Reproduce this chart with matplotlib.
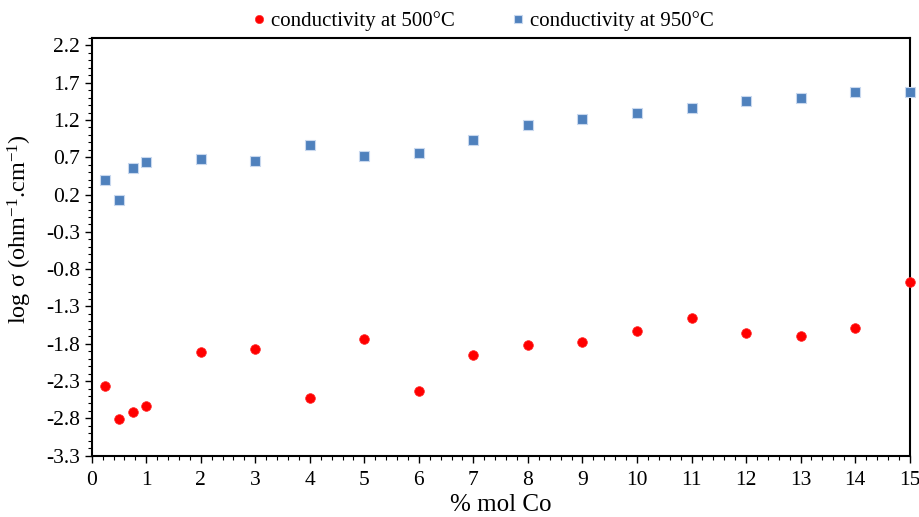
import matplotlib
matplotlib.use("Agg")
import matplotlib.pyplot as plt
from matplotlib.ticker import MultipleLocator, FixedLocator

plt.rcParams['font.family'] = ['Liberation Serif', 'DejaVu Serif']
plt.rcParams['mathtext.fontset'] = 'custom'
plt.rcParams['mathtext.rm'] = 'Liberation Serif'
plt.rcParams['mathtext.it'] = 'Liberation Serif:italic'

x_co = [0.25, 0.5, 0.75, 1, 2, 3, 4, 5, 6, 7, 8, 9, 10, 11, 12, 13, 14, 15]
sigma_500 = [-2.36, -2.81, -2.71, -2.64, -1.91, -1.87, -2.53, -1.73, -2.43,
             -1.95, -1.81, -1.78, -1.63, -1.45, -1.66, -1.69, -1.59, -0.97]
sigma_950 = [0.40, 0.13, 0.56, 0.64, 0.68, 0.65, 0.87, 0.72, 0.76,
             0.93, 1.13, 1.21, 1.30, 1.36, 1.45, 1.49, 1.57, 1.57]
y_ticks = [2.2, 1.7, 1.2, 0.7, 0.2, -0.3, -0.8, -1.3, -1.8, -2.3, -2.8, -3.3]
x_ticks = list(range(0, 16))

fig = plt.figure(figsize=(9.2, 5.17), dpi=100)
ax = fig.add_axes([0.0997, 0.1186, 0.889, 0.808])

ax.plot(x_co, sigma_500, linestyle='none', marker='o', markersize=7,
        color='#FF0000', markeredgecolor='#FF3030', markeredgewidth=0.5,
        clip_on=False, zorder=3, label='conductivity at 500°C')
ax.plot(x_co, sigma_950, linestyle='none', marker='s', markersize=7,
        color='#4F81BD', markeredgecolor='#C8D8EE', markeredgewidth=0.8,
        clip_on=False, zorder=3, label='conductivity at 950°C')

ax.set_xlim(0, 15)
ax.set_ylim(-3.3, 2.3)
ax.xaxis.set_major_locator(FixedLocator(x_ticks))
ax.xaxis.set_minor_locator(MultipleLocator(0.2))
ax.yaxis.set_major_locator(FixedLocator(y_ticks))
ax.yaxis.set_minor_locator(MultipleLocator(0.1))
ax.set_yticklabels([f"{v:.1f}" for v in y_ticks])
ax.set_xticklabels([str(v) for v in x_ticks])

ax.tick_params(axis='both', which='major', direction='out', length=5, width=1,
               labelsize=15.5, color='black')
ax.tick_params(axis='both', which='minor', direction='out', length=3, width=0.8)
ax.tick_params(axis='x', pad=6)
for s in ax.spines.values():
    s.set_linewidth(1.5)
    s.set_color('black')

ax.set_xlabel('% mol Co', fontsize=18, labelpad=3)
ax.set_ylabel(r'log σ (ohm$^{-1}$.cm$^{-1}$)', fontsize=17.5)
ax.yaxis.set_label_coords(-0.071, 0.543)

fig.legend(loc='upper center', bbox_to_anchor=(0.523, 1.015), ncol=2,
           frameon=False, fontsize=15, handletextpad=0.1, columnspacing=2.5,
           handlelength=1.0, markerscale=0.85)

fig.savefig('out.png', dpi=100)
